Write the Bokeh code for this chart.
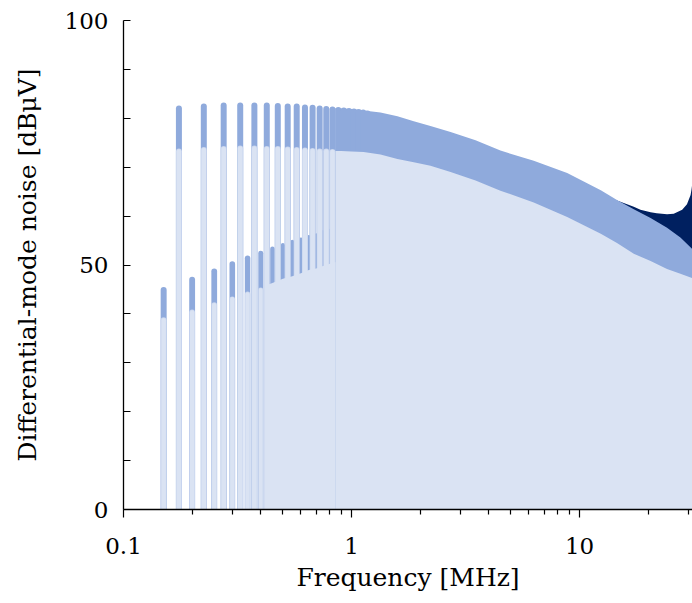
import numpy as np
from bokeh.plotting import figure
from bokeh.models import Range1d, FixedTicker
from bokeh.embed import file_html
from bokeh.resources import INLINE

# ---------------- data ----------------
# odd harmonics (tall spikes)
odd_freq = [0.175, 0.225, 0.275, 0.325, 0.375, 0.425, 0.475, 0.525, 0.575, 0.625,
            0.675, 0.725, 0.775, 0.825, 0.875, 0.925, 0.975, 1.025, 1.075, 1.125, 1.175]
odd_peak = [82.6, 83.0, 83.2, 83.2, 83.2, 83.2, 83.1, 83.0, 83.0, 82.8,
            82.75, 82.6, 82.5, 82.4, 82.3, 82.2, 82.1, 82.0, 81.9, 81.8, 81.6]
odd_low = [73.8, 74.1, 74.3, 74.4, 74.4, 74.3, 74.3, 74.2, 74.1, 74.0,
           73.9, 73.8, 73.8, 73.7, 73.6, 73.5, 73.4, 73.3, 73.2, 73.1, 73.0]

# even harmonics (short spikes)
even_freq = [0.15, 0.2, 0.25, 0.3, 0.35, 0.4, 0.45, 0.5, 0.55, 0.6, 0.65, 0.7, 0.75, 0.8]
even_peak = [45.5, 47.6, 49.3, 50.8, 52.0, 53.0, 53.9, 54.7, 55.4, 55.9, 56.5, 56.9, 57.6, 57.9]
even_low = [39.3, 40.9, 42.4, 43.6, 44.6, 45.5, 46.3, 47.2, 47.7, 48.3, 49.0, 49.3, 49.8, 50.2]

# floor between harmonics (solid region below even-harmonic level)
floor_freq = [0.42, 0.45, 0.5, 0.55, 0.6, 0.65, 0.7, 0.75, 0.8, 0.85]
floor_level = [45.8, 46.3, 47.2, 47.7, 48.3, 49.0, 49.3, 49.8, 50.2, 50.6]

# dense region envelopes
env_freq = [0.85, 0.9, 1.0, 1.13, 1.34, 1.59, 1.875, 2.22, 2.72, 3.5, 4.5, 6.3,
            8.83, 12.4, 14.6, 17.3, 20.5, 24.2, 27.7, 31.3]
env_high = [82.1, 82.0, 81.9, 81.6, 81.2, 80.4, 79.4, 78.4, 77.2, 75.5, 73.4, 71.3,
            68.8, 65.3, 63.3, 61.4, 59.6, 57.6, 55.6, 53.2]
env_low = [73.3, 73.3, 73.2, 73.1, 72.6, 71.7, 71.0, 70.3, 69.0, 67.3, 65.2, 62.8,
           59.8, 56.4, 54.5, 52.3, 50.8, 49.2, 48.2, 47.3]

# resonance (upper series visible at high frequency)
res_freq = [14.6, 17.3, 18.5, 20.5, 21.8, 24.2, 25.9, 28.2, 29.6, 30.7, 31.0, 31.3]
res_level = [63.2, 61.9, 61.3, 60.8, 60.6, 60.4, 60.5, 61.3, 62.4, 64.3, 65.5, 67.0]

x_major = [0.1, 1, 10]
x_minor = [m * d for d in (0.1, 1, 10) for m in range(2, 10) if m * d < 31.3]
y_major = [0, 50, 100]
y_minor = [10, 20, 30, 40, 60, 70, 80, 90]

# ---------------- styling ----------------
DARK = "#002060"
MED = "#8faadc"
LIGHT = "#dae3f3"
EDGE = "#c8d5ee"
FONT = "DejaVu Serif"
CAP = 0.6  # round cap radius in data units (approx 3 px)

p = figure(width=692, height=600, x_axis_type="log",
           x_range=Range1d(0.1, 31.3), y_range=Range1d(0, 100),
           output_backend="svg", toolbar_location=None,
           min_border_left=123, min_border_right=0,
           min_border_top=20, min_border_bottom=91)
p.outline_line_color = None
p.grid.visible = False
p.background_fill_color = "white"

# dark resonance
p.varea(x=res_freq, y1=0, y2=res_level, fill_color=DARK)
# medium envelope
p.varea(x=env_freq, y1=0, y2=env_high, fill_color=MED)

odd_f = np.array(odd_freq)
even_f = np.array(even_freq)
zeros_o = np.zeros(len(odd_f))
zeros_e = np.zeros(len(even_f))
even_w = np.interp(even_f, [0.15, 0.35, 0.8], [6.0, 5.5, 0.9])

# medium spikes
p.segment(x0=odd_f, y0=zeros_o, x1=odd_f, y1=np.array(odd_peak) - CAP,
          line_color=MED, line_width=6, line_cap="round")
p.segment(x0=even_f, y0=zeros_e, x1=even_f, y1=np.array(even_peak) - CAP,
          line_color=MED, line_width=even_w, line_cap="round")

# light envelope
p.varea(x=env_freq, y1=0, y2=env_low, fill_color=LIGHT)

# light spikes (only the separated ones, below the dense region)
sep = odd_f < 0.85
o_f = odd_f[sep]
o_low = np.array(odd_low)[sep] - CAP
z = np.zeros(len(o_f))
p.segment(x0=o_f, y0=z, x1=o_f, y1=o_low, line_color=EDGE, line_width=6, line_cap="round")
p.segment(x0=o_f, y0=z, x1=o_f, y1=o_low, line_color=LIGHT, line_width=4.6, line_cap="round")
p.segment(x0=even_f, y0=zeros_e, x1=even_f, y1=np.array(even_low) - CAP,
          line_color=EDGE, line_width=even_w, line_cap="round")
p.segment(x0=even_f, y0=zeros_e, x1=even_f, y1=np.array(even_low) - CAP,
          line_color=LIGHT, line_width=even_w * 0.75, line_cap="round")

# solid floor drawn last so spike edges disappear inside it
p.varea(x=floor_freq, y1=0, y2=floor_level, fill_color=LIGHT)

# axes
p.xaxis.ticker = FixedTicker(ticks=x_major, minor_ticks=x_minor)
p.yaxis.ticker = FixedTicker(ticks=y_major, minor_ticks=y_minor)
p.xaxis.major_label_overrides = {0.1: "0.1", 1: "1", 10: "10"}

for ax in (p.xaxis[0], p.yaxis[0]):
    ax.axis_line_color = "black"
    ax.axis_line_width = 1.3
    ax.major_tick_line_color = "black"
    ax.minor_tick_line_color = "black"
    ax.major_tick_line_width = 1.2
    ax.minor_tick_line_width = 1.2
    ax.major_label_text_font = FONT
    ax.major_label_text_font_size = "23px"
    ax.major_label_text_color = "black"
    ax.axis_label_text_font = FONT
    ax.axis_label_text_font_size = "25px"
    ax.axis_label_text_font_style = "normal"
    ax.axis_label_text_color = "black"

p.xaxis.major_tick_in = 0
p.xaxis.major_tick_out = 8
p.xaxis.minor_tick_in = 0
p.xaxis.minor_tick_out = 5
p.xaxis.major_label_standoff = 20
p.xaxis.axis_label = "Frequency [MHz]"
p.xaxis.axis_label_standoff = 6

p.yaxis.major_tick_in = 7
p.yaxis.major_tick_out = 0
p.yaxis.minor_tick_in = 7
p.yaxis.minor_tick_out = 0
p.yaxis.major_label_standoff = 15
p.yaxis.axis_label = "Differential-mode noise [dBμV]"
p.yaxis.axis_label_standoff = 20

open("out.html", "w").write(file_html(p, INLINE))
